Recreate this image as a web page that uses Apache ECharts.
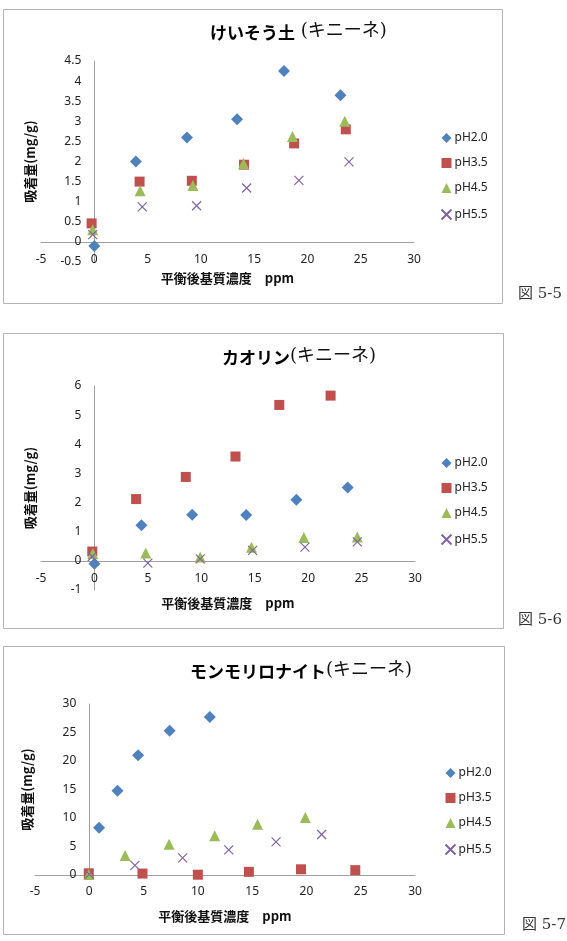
<!DOCTYPE html>
<html><head><meta charset="utf-8">
<script src="https://cdn.jsdelivr.net/npm/echarts@6/dist/echarts.min.js"></script>
<style>html,body{margin:0;padding:0;background:#fff}#c{width:567px;height:941px}</style>
</head><body><div id="c"></div>
<script>
// ---- Data ----
const seriesNames = ['pH2.0', 'pH3.5', 'pH4.5', 'pH5.5'];
const xTicks = { min: -5, max: 30, interval: 5 };

// 図5-5 けいそう土
const diatom_pH20 = [[0,-0.1],[3.9,2.0],[8.7,2.6],[13.4,3.05],[17.8,4.25],[23.1,3.65]];
const diatom_pH35 = [[-0.25,0.46],[4.25,1.5],[9.15,1.52],[14.05,1.92],[18.75,2.45],[23.6,2.8]];
const diatom_pH45 = [[-0.15,0.3],[4.3,1.27],[9.25,1.4],[14.0,1.95],[18.6,2.62],[23.5,3.0]];
const diatom_pH55 = [[-0.15,0.18],[4.5,0.87],[9.6,0.9],[14.3,1.34],[19.2,1.53],[23.9,1.99]];

// 図5-6 カオリン
const kaolin_pH20 = [[0,-0.1],[4.4,1.22],[9.15,1.58],[14.2,1.57],[18.9,2.1],[23.7,2.52]];
const kaolin_pH35 = [[-0.2,0.32],[3.9,2.12],[8.55,2.88],[13.2,3.58],[17.3,5.35],[22.1,5.67]];
const kaolin_pH45 = [[-0.15,0.25],[4.8,0.27],[9.9,0.13],[14.7,0.47],[19.6,0.8],[24.6,0.82]];
const kaolin_pH55 = [[-0.2,0.15],[5.0,-0.08],[9.9,0.07],[14.8,0.36],[19.7,0.47],[24.6,0.65]];

// 図5-7 モンモリロナイト
const mont_pH20 = [[0.9,8.3],[2.6,14.8],[4.5,21.0],[7.4,25.3],[11.1,27.7]];
const mont_pH35 = [[-0.05,0.3],[4.9,0.25],[10.0,0.05],[14.7,0.55],[19.5,1.0],[24.5,0.85]];
const mont_pH45 = [[-0.05,0.1],[3.3,3.4],[7.35,5.4],[11.55,6.9],[15.5,8.9],[19.9,10.1]];
const mont_pH55 = [[0,0.1],[4.2,1.7],[8.6,3.0],[12.85,4.4],[17.2,5.8],[21.4,7.1]];

const yRanges = [
  { min: -0.5, max: 4.5, interval: 0.5 },
  { min: -1, max: 6, interval: 1 },
  { min: 0, max: 30, interval: 5 }
];
const titles = [['けいそう土', ' (キニーネ)'], ['カオリン', '(キニーネ)'], ['モンモリロナイト', '(キニーネ)']];
const figLabels = ['図 5-5', '図 5-6', '図 5-7'];
const xName = '平衡後基質濃度　ppm';
const yName = '吸着量(mg/g)';
const panels = [
  [diatom_pH20, diatom_pH35, diatom_pH45, diatom_pH55],
  [kaolin_pH20, kaolin_pH35, kaolin_pH45, kaolin_pH55],
  [mont_pH20, mont_pH35, mont_pH45, mont_pH55]
];

// ---- Styles ----
const W = 567;
const colors = ['#4F81BD', '#C0504D', '#9BBB59', '#8064A2'];
const symbols = ['diamond', 'rect', 'triangle', 'path://M0,0L10,10M10,0L0,10'];
const sizes = [12, 10, 11, 9];
const layout = [
  { grid: { left: 41, right: 153, top: 61, height: 201 }, box: [3, 9, 499, 294], title: [205, 17], legend: [434, 127], xGap: 30, yGap: 58, lblMargin: 12, fig: [518, 296] },
  { grid: { left: 41, right: 152, top: 386, height: 204 }, box: [3, 333, 500, 295], title: [217, 342], legend: [434, 452], xGap: 36, yGap: 58, lblMargin: 12, fig: [518, 622] },
  { grid: { left: 35, right: 152, top: 704, height: 171 }, box: [3, 646, 501, 288], title: [185, 656], legend: [438, 762], xGap: 35, yGap: 56, lblMargin: 11, fig: [522, 927] }
];

const labelFont = 'Noto Sans, Liberation Sans, sans-serif';
const cjkFont = 'Noto Sans CJK JP, sans-serif';
const serifFont = 'DejaVu Serif, Noto Sans CJK JP, serif';

const option = { animation: false, backgroundColor: '#fff', grid: [], xAxis: [], yAxis: [], series: [], title: [], legend: [], graphic: [] };

layout.forEach((L, i) => {
  const g = L.grid;
  const gw = W - g.left - g.right;
  const yr = yRanges[i];
  // axes cross at zero (Excel style): shift the axis lines to the zero position
  const xAxisOffset = -g.height * (0 - yr.min) / (yr.max - yr.min);
  const yAxisOffset = -gw * (0 - xTicks.min) / (xTicks.max - xTicks.min);

  option.graphic.push({ type: 'rect', shape: { x: L.box[0] + 0.5, y: L.box[1] + 0.5, width: L.box[2], height: L.box[3] }, style: { fill: 'none', stroke: '#B4B4B4', lineWidth: 1 }, z: -1 });
  option.graphic.push({ type: 'text', left: L.fig[0], top: L.fig[1] - 9, style: { text: figLabels[i], font: '15px ' + serifFont, fill: '#333' } });
  option.grid.push(Object.assign({ containLabel: false, outerBoundsMode: 'none' }, g));
  option.xAxis.push({
    type: 'value', gridIndex: i, min: xTicks.min, max: xTicks.max, interval: xTicks.interval,
    position: 'bottom', offset: xAxisOffset,
    axisLine: { onZero: false, lineStyle: { color: '#A0A0A0', width: 1 } },
    axisTick: { show: false }, splitLine: { show: false },
    axisLabel: { margin: L.lblMargin, color: '#222', fontSize: 12, fontFamily: labelFont },
    name: xName, nameLocation: 'middle', nameGap: L.xGap,
    nameTextStyle: { fontSize: 13, fontWeight: 'bold', color: '#111', fontFamily: cjkFont }
  });
  option.yAxis.push({
    type: 'value', gridIndex: i, min: yr.min, max: yr.max, interval: yr.interval,
    position: 'left', offset: yAxisOffset,
    axisLine: { show: true, onZero: false, lineStyle: { color: '#A0A0A0', width: 1 } },
    axisTick: { show: false }, splitLine: { show: false },
    axisLabel: { margin: 13, color: '#222', fontSize: 12, fontFamily: labelFont },
    name: yName, nameLocation: 'middle', nameGap: L.yGap,
    nameTextStyle: { fontSize: 13, fontWeight: 'bold', color: '#111', fontFamily: cjkFont }
  });
  option.title.push({
    left: L.title[0], top: L.title[1],
    text: '{a|' + titles[i][0] + '}{b|' + titles[i][1] + '}',
    textStyle: { rich: {
      a: { fontSize: 17, fontWeight: 'bold', color: '#000', fontFamily: cjkFont },
      b: { fontSize: 18, fontWeight: 'normal', color: '#111', fontFamily: serifFont, padding: [0, 0, 4, 0] }
    } }
  });
  option.legend.push({
    orient: 'vertical', left: L.legend[0], top: L.legend[1], itemGap: 13, itemWidth: 10, itemHeight: 10,
    data: seriesNames.map(n => ({ name: n })), selectedMode: false,
    textStyle: { fontSize: 12, color: '#222', fontFamily: labelFont, padding: [0, 0, 0, -2] }
  });
  panels[i].forEach((d, k) => {
    const cross = k === 3;
    option.series.push({
      type: 'scatter', name: seriesNames[k], xAxisIndex: i, yAxisIndex: i, data: d,
      symbol: symbols[k], symbolSize: sizes[k],
      itemStyle: cross ? { color: 'none', borderColor: colors[k], borderWidth: 1.2, opacity: 1 } : { color: colors[k], opacity: 1 },
      emphasis: { disabled: true }
    });
  });
});

const chart = echarts.init(document.getElementById('c'), null, { renderer: 'canvas' });
chart.setOption(option);
</script></body></html>
